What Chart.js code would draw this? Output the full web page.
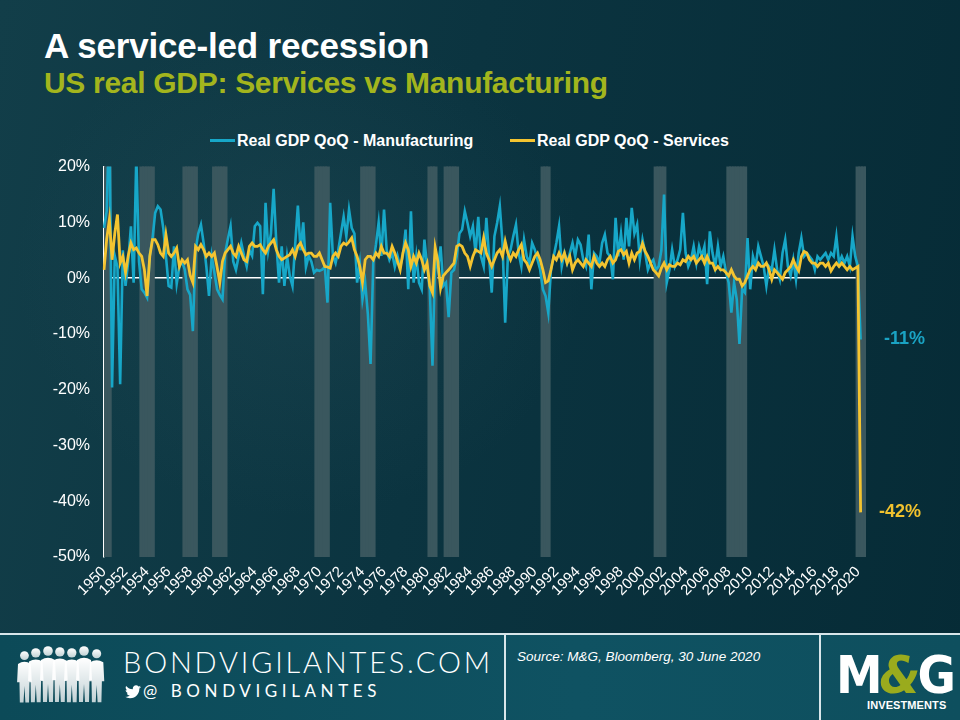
<!DOCTYPE html>
<html>
<head>
<meta charset="utf-8">
<title>A service-led recession</title>
<script src="https://cdn.jsdelivr.net/npm/chart.js@4.4.1/dist/chart.umd.min.js"></script>
<style>
  html, body { margin: 0; padding: 0; }
  body {
    width: 960px; height: 720px; overflow: hidden; position: relative;
    font-family: "Liberation Sans", Arial, sans-serif;
    background:
      radial-gradient(ellipse 380px 330px at 300px 270px, rgba(60,100,110,0.18), rgba(0,0,0,0) 75%),
      linear-gradient(100deg, #123e49 0%, #0b3440 45%, #062b36 100%);
  }
  #title { position: absolute; left: 44px; top: 28px; color: #fff; font-weight: bold; font-size: 35px; line-height: 35px; letter-spacing: -0.2px; }
  #subtitle { position: absolute; left: 44px; top: 68px; color: #a3b51d; font-weight: bold; font-size: 30px; line-height: 30px; letter-spacing: -0.3px; }
  .legend { position: absolute; top: 132px; color: #fff; font-weight: bold; font-size: 16px; line-height: 18px; white-space: nowrap; }
  .legend i { display: inline-block; width: 25px; height: 3px; vertical-align: middle; margin-right: 2px; position: relative; top: -1px; }
  #chartBox { position: absolute; left: 0; top: 143px; width: 960px; height: 487px; }
  #footer { position: absolute; left: 0; top: 633px; width: 960px; height: 87px; background: linear-gradient(90deg, #0c4a58 0%, #0f5262 60%, #0e4f5e 100%); border-top: 2px solid #d8e6ea; }
  .vline { position: absolute; top: 0; width: 2px; height: 87px; background: #d8e6ea; }
  #bv { position: absolute; left: 123px; top: 12px; color: #fff; font-family: Lato, "Open Sans", sans-serif; font-weight: 300; font-size: 29px; letter-spacing: 2.8px; line-height: 30px; }
  #handle { position: absolute; left: 143px; top: 47px; color: #fff; font-family: Lato, "Open Sans", sans-serif; font-size: 17px; letter-spacing: 4.6px; line-height: 18px; }
  #source { position: absolute; left: 517px; top: 14px; color: #fff; font-style: italic; font-size: 13.5px; }
  #logo { position: absolute; left: 836px; top: 14px; width: 115px; height: 72px; }
  #logo .mg { position: absolute; left: 0; top: 0; font-family: "Liberation Sans Narrow", "DejaVu Sans Condensed", sans-serif; font-weight: bold; font-size: 52px; line-height: 52px; color: #fff; letter-spacing: -3px; }
  #logo .amp { color: #9aab1d; font-style: italic; }
  #logo .inv { position: absolute; left: 31px; top: 50px; font-weight: bold; font-size: 11px; color: #fff; letter-spacing: 0.1px; }
</style>
</head>
<body>
<div id="title">A service-led recession</div>
<div id="subtitle">US real GDP: Services vs Manufacturing</div>
<div class="legend" style="left:210px"><i style="background:#17a7c8"></i>Real GDP QoQ - Manufacturing</div>
<div class="legend" style="left:510px"><i style="background:#f4c430"></i>Real GDP QoQ - Services</div>

<div id="chartBox"><canvas id="gdpChart" width="960" height="487"></canvas></div>

<div id="footer">
  <svg width="110" height="87" style="position:absolute;left:14px;top:0">
    <defs>
      <linearGradient id="fade" x1="0" y1="0" x2="0" y2="1">
        <stop offset="0" stop-color="#fff"/>
        <stop offset="1" stop-color="#fff" stop-opacity="0.75"/>
      </linearGradient>
      <g id="person">
        <circle cx="7" cy="5" r="4.8"/>
        <path d="M0,14 Q7,9.5 14,14 L15,34 L12.5,34 L12,56 L8,56 L7,38 L6,56 L2,56 L1.6,34 L-1,34 Z"/>
      </g>
    </defs>
    <g fill="url(#fade)">
      <use href="#person" transform="translate(4,16) scale(0.92)"/>
      <use href="#person" transform="translate(15,13) scale(0.97)"/>
      <use href="#person" transform="translate(27,11) scale(1.0)"/>
      <use href="#person" transform="translate(39,12) scale(0.98)"/>
      <use href="#person" transform="translate(51,13) scale(0.97)"/>
      <use href="#person" transform="translate(63,11) scale(1.0)"/>
      <use href="#person" transform="translate(76,14) scale(0.95)"/>
    </g>
  </svg>
  <div id="bv">BONDVIGILANTES.COM</div>
  <svg width="16" height="14" style="position:absolute;left:125px;top:50px" viewBox="0 0 24 20">
    <path fill="#fff" d="M24 2.4c-.9.4-1.8.7-2.8.8 1-.6 1.8-1.6 2.2-2.7-1 .6-2 1-3.1 1.2C19.3.7 18 0 16.6 0c-2.7 0-4.9 2.2-4.9 4.9 0 .4 0 .8.1 1.1C7.7 5.8 4.1 3.9 1.7.9c-.4.7-.7 1.6-.7 2.5 0 1.7.9 3.2 2.2 4.1-.8 0-1.6-.2-2.2-.6v.1c0 2.4 1.7 4.4 3.9 4.8-.4.1-.8.2-1.3.2-.3 0-.6 0-.9-.1.6 2 2.4 3.4 4.6 3.4-1.7 1.3-3.8 2.1-6.1 2.1-.4 0-.8 0-1.2-.1 2.2 1.4 4.8 2.2 7.5 2.2 9.1 0 14-7.5 14-14v-.6c1-.7 1.8-1.6 2.5-2.5z"/>
  </svg>
  <div id="handle">@ BONDVIGILANTES</div>
  <div class="vline" style="left:504px"></div>
  <div id="source">Source: M&amp;G, Bloomberg, 30 June 2020</div>
  <div class="vline" style="left:819px"></div>
  <div id="logo">
    <div class="mg">M<span class="amp">&amp;</span>G</div>
    <div class="inv">INVESTMENTS</div>
  </div>
</div>

<script>
// quarterly, 1950 Q1 .. 2020 Q2, QoQ annualised %
const firstYear = 1950;
const lastYear = 2020;

const manufacturing = [
  9, 12, 30, -19.6,        // 1950
  4, 2, -19, 5,            // 1951
  -1.4, 3, 9.3, -0.8,
  22, 3, -2, -2.6,
  -3.5, 4, 7, 11.7,
  12.9, 12.3, 9, 4,        // 1955
  -1.4, -1.7, 5.7, -1,
  2.1, 3, 1.5, -2,
  -3, -9.5, 5, 8,
  9.6, 6.3, 2.1, -3.2,
  3.9, 1, -2, -3,          // 1960
  -3.8, 4.5, 7, 9.3,
  3, 1.5, 3.9, 6.3,
  4, 2.1, 5, 4,
  9.3, 9.9, 9.3, -2.9,
  13.5, 5, 8, 16,          // 1965
  6.3, -0.8, 5.7, -1.4,
  3.9, 0.4, -1.4, 6,
  13, 5, 10, 2,
  4, 3, 1, 1.5,
  1.3, 1.5, 2, -4.4,       // 1970
  13.5, 4, 2.7, 5,
  8, 11, 7.5, 12.3,
  9, 8, -0.8, 2.7,
  -3.8, -0.8, -6.5, -15.4,
  2.7, 6, 10, 4,           // 1975
  12.3, 5, 3.3, 4.5,
  2, 4, 2, 4,
  8.7, -2, 12, -0.8,
  3.9, -0.8, -2, 6.9,
  2.1, -2, -15.7, 3.9,     // 1980
  1.5, 5.7, -1.4, -0.8,
  -7, 1, 1.5, 3.9,
  8, 8.7, 12, 9.9,
  7.5, 9.3, 4.5, 11,
  3.9, 2.1, 10.8, 3.9,     // 1985
  -2.6, 7.5, 9.9, 12.9,
  6.3, -8, 3.9, 5.1,
  7.5, 9.6, 4.5, 2.1,
  6.9, 3.9, 2.7, 6.3,
  5.1, 3.3, 1.5, -2,       // 1990
  -3.2, -6.2, 1.5, 3.9,
  6.3, 9.3, 2.1, 4.5,
  2.7, 4.5, 6.3, 3.9,
  6.9, 6, 3.3, 2.1,
  7.8, -2, 4.5, 3.9,       // 1995
  2.7, 6.3, 7.8, 4.5,
  3.9, -0.2, 10.8, 3.9,
  8, 3.3, 10.8, 5.7,
  12.6, 8, 9.6, 3.3,
  6.9, 4.5, 1.5, 2.7,      // 2000
  3.3, 1.5, 2.1, 5,
  15, -0.8, 1.5, 5.1,
  2.1, 3.3, 5.1, 11.7,
  4.5, 2.1, 3.3, 5.7,
  2.7, 5.7, 3.9, 5.7,      // 2005
  -1.1, 8.4, 4.5, 2.1,
  5.7, 2.1, 3.9, 1,
  -0.8, -6.2, -0.8, -3.8,
  -11.8, -2, -2.6, 7.2,
  -2, 3.9, 2.1, 5.7,       // 2010
  3.9, 2.1, -1.4, 2.1,
  1.5, 5.1, 1.5, -0.2,
  4.5, 6.9, 2.1, 0.4,
  3.3, -0.2, 4.5, 7.2,
  3.9, 4.5, 3.9, 3.3,      // 2015
  1.5, 3.9, 3.3, 3.9,
  4.5, 3.3, 4.5, 3.9,
  7.5, 2.7, 3.9, 2.7,
  3.9, 2.1, 7.5, 3.9,
  2.1, -11                 // 2020
];

const services = [
  1.5, 7, 10.5, 3.3,       // 1950
  8, 11.4, 2.7, 3.9,
  1, 4, 6.3, 5.1,
  5.4, 4.5, 3.9, 1.5,
  -3.2, 3.9, 6.9, 6.9,
  6, 4.5, 3.9, 7.8,        // 1955
  4.5, 3.9, 4.5, 5.4,
  2.1, 3.3, 2.7, 3.3,
  0.5, -0.8, 5.7, 5.1,
  6, 5.1, 3.9, 4.5,
  3.9, 4.5, 2, -0.8,       // 1960
  3, 4.5, 5.1, 5.7,
  4.5, 3.9, 5.7, 4.5,
  3.3, 3, 5.7, 6.3,
  5.7, 5.7, 6, 5.1,
  4.5, 5.7, 6.3, 6.9,      // 1965
  5.1, 3.9, 3.3, 3.6,
  3.9, 4.2, 5.1, 3.9,
  5.7, 6.3, 5.1, 4.2,
  4.5, 4.5, 3.9, 3.9,
  4.5, 3.3, 2.1, 2,        // 1970
  1.8, 3.9, 4.5, 3.9,
  5.7, 6.3, 6, 6.5,
  7.2, 5.1, 3.9, 2.1,
  -0.8, 3.3, 3.9, 3.9,
  3.3, 4.5, 3.9, 5.7,      // 1975
  4.5, 4.5, 3.9, 5.7,
  4.5, 3, 1.5, 4.5,
  6.3, 5.1, 2.1, 3.9,
  2.7, 4.5, 3.3, 1.5,
  2.7, -1.4, -2.6, 5.5,    // 1980
  3, -1.8, 0.4, 1,
  1.5, 2.1, 2.7, 5.7,
  6, 5.7, 4.5, 3.9,
  2.1, 3.9, 5.1, 4.8,
  4.5, 7.2, 4.5, 3.3,      // 1985
  2.1, 3.3, 4.5, 5.1,
  3.9, 6.6, 4.5, 3.3,
  4.5, 3.9, 5.1, 6,
  3.3, 2.7, 1.5, 2.7,
  3.9, 4.5, 3.3, 1.5,      // 1990
  -0.8, -0.5, 1.5, 3.9,
  3.3, 4.5, 3.3, 4.5,
  2.7, 3.9, 1.5, 2.7,
  3.3, 2.7, 2.1, 3.3,
  2.7, 2.1, 3.9, 2.7,      // 1995
  2.1, 2.7, 2.1, 3.3,
  3.9, 2.7, 3.3, 4.8,
  5.1, 4.2, 4.8, 2.7,
  4.5, 3.3, 4.5, 4.8,
  6.2, 4.8, 3.9, 2.7,      // 2000
  1.5, 1, 0.4, 1.8,
  2.7, 1.5, 2.4, 2.1,
  2.1, 2.7, 2.4, 3.3,
  3, 3.9, 3.3, 3.9,
  2.7, 3.3, 3.9, 2.7,      // 2005
  3.9, 2.7, 2.7, 1.5,
  2.1, 1.5, 1.5, 1,
  0.4, 1.5, 0.4, -0.2,
  -0.2, -1.4, -0.8, 0.4,
  1.5, 2.1, 1.5, 2.7,      // 2010
  2.1, 2.1, 2.7, 1.5,
  -0.2, 1.5, 1, 0.4,
  -0.2, 1, 1.5, 2.1,
  3.3, 2.1, 1.3, 3.9,
  4.8, 4.5, 3.3, 2.7,      // 2015
  2.7, 2.1, 2.7, 2.7,
  2.1, 2.7, 1.3, 2.1,
  2.7, 2.1, 2.7, 2.1,
  1.5, 2.1, 1.5, 1.8,
  2.1, -42                 // 2020
];

// shaded recession periods, first and last quarter
const recessions = [
  ['1950 Q1', '1950 Q3'], ['1953 Q3', '1954 Q3'], ['1957 Q3', '1958 Q3'],
  ['1960 Q2', '1961 Q2'], ['1969 Q4', '1970 Q4'], ['1974 Q1', '1975 Q1'],
  ['1980 Q2', '1980 Q4'], ['1981 Q4', '1982 Q4'], ['1990 Q4', '1991 Q2'],
  ['2001 Q2', '2002 Q1'], ['2008 Q1', '2009 Q3'], ['2020 Q1', '2020 Q4']
];

const tickYears = [1950, 1952, 1954, 1956, 1958, 1960, 1962, 1964, 1966, 1968,
  1970, 1972, 1974, 1976, 1978, 1980, 1982, 1984, 1986, 1988, 1990, 1992, 1994,
  1996, 1998, 2000, 2002, 2004, 2006, 2008, 2010, 2012, 2014, 2016, 2018, 2020];

const yMin = -50, yMax = 20, yStep = 10;

// category labels, one per quarter
const quarters = [];
for (let y = firstYear; y <= lastYear; y++) {
  for (let q = 1; q <= 4; q++) quarters.push(y + ' Q' + q);
}

const recessionBars = quarters.map((label, i) => {
  const inside = recessions.some(([a, b]) => i >= quarters.indexOf(a) && i <= quarters.indexOf(b));
  return inside ? [yMin, yMax] : null;
});

// writes the last value next to the end of each line
const endLabels = {
  id: 'endLabels',
  afterDatasetsDraw(chart) {
    const ctx = chart.ctx;
    chart.data.datasets.forEach((ds, i) => {
      if (!ds.endLabel) return;
      const meta = chart.getDatasetMeta(i);
      let last = ds.data.length - 1;
      while (last > 0 && ds.data[last] == null) last--;
      const pt = meta.data[last];
      ctx.save();
      ctx.font = 'bold 18px "Liberation Sans", Arial, sans-serif';
      ctx.fillStyle = ds.endLabelColor;
      ctx.textBaseline = 'middle';
      ctx.fillText(Math.round(ds.data[last]) + '%', chart.chartArea.right + ds.endLabel, pt.y);
      ctx.restore();
    });
  }
};

Chart.defaults.font.family = '"Liberation Sans", Arial, sans-serif';
Chart.defaults.color = '#ffffff';

const ctx = document.getElementById('gdpChart').getContext('2d');
new Chart(ctx, {
  type: 'line',
  data: {
    labels: quarters,
    datasets: [
      {
        label: 'Real GDP QoQ - Services',
        data: services,
        borderColor: '#f4c430',
        borderWidth: 2.8,
        pointRadius: 0,
        tension: 0,
        order: 1,
        endLabel: 13,
        endLabelColor: '#f1c22e'
      },
      {
        label: 'Real GDP QoQ - Manufacturing',
        data: manufacturing,
        borderColor: '#17a7c8',
        borderWidth: 2.6,
        pointRadius: 0,
        tension: 0,
        order: 2,
        endLabel: 18,
        endLabelColor: '#1aa3c3'
      },
      {
        type: 'bar',
        label: 'Recession',
        data: recessionBars,
        backgroundColor: '#3a575e',
        borderWidth: 0,
        inflateAmount: 1,
        barPercentage: 1,
        categoryPercentage: 1,
        grouped: false,
        order: 3
      }
    ]
  },
  options: {
    responsive: false,
    animation: false,
    layout: { padding: { top: 8, right: 94, bottom: 0, left: 0 } },
    plugins: {
      legend: { display: false },
      tooltip: { enabled: false }
    },
    scales: {
      x: {
        offset: false,
        afterFit: (axis) => { axis.height = 73; },
        grid: { display: false, drawTicks: false },
        border: { display: false },
        ticks: {
          autoSkip: false,
          minRotation: 45,
          maxRotation: 45,
          padding: 6,
          color: '#ffffff',
          font: { size: 15 },
          callback: function (value) {
            const label = this.getLabelForValue(value);
            const [year, q] = label.split(' ');
            return q === 'Q1' && tickYears.includes(Number(year)) ? year : null;
          }
        }
      },
      y: {
        min: yMin,
        max: yMax,
        afterFit: (axis) => { axis.width = 104; },
        border: { display: true, color: '#ffffff', width: 1.5 },
        grid: {
          drawTicks: false,
          color: (c) => (c.tick && c.tick.value === 0 ? '#ffffff' : 'rgba(0,0,0,0)'),
          lineWidth: 1.5
        },
        ticks: {
          stepSize: yStep,
          padding: 14,
          color: '#ffffff',
          font: { size: 16 },
          callback: (v) => v + '%'
        }
      }
    }
  },
  plugins: [endLabels]
});
</script>
</body>
</html>
